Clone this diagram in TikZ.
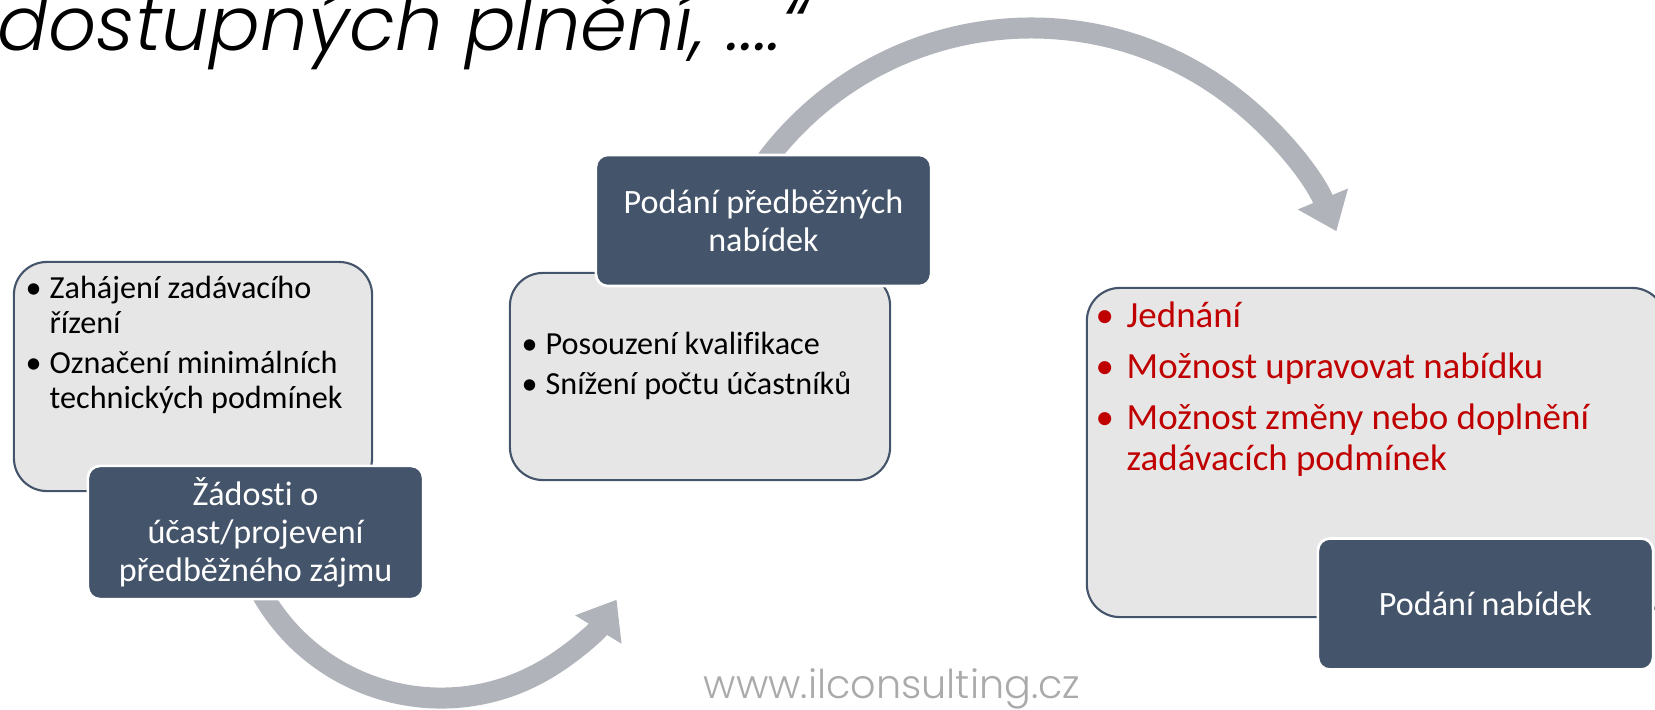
\documentclass[tikz,border=0pt]{standalone}
\usepackage{fontspec}
\setmainfont{Carlito}[Ligatures=NoCommon]
\IfFontExistsTF{Poppins Light Italic}
  {\newfontfamily\titlefont{Poppins Light Italic}}
  {\newfontfamily\titlefont{Poppins Italic}}
\IfFontExistsTF{Poppins Light}
  {\newfontfamily\webfont{Poppins Light}}
  {\newfontfamily\webfont{Poppins}}
\usetikzlibrary{arrows.meta}
\definecolor{slate}{RGB}{68,84,106}
\definecolor{boxgray}{RGB}{231,230,230}
\definecolor{arrowgray}{RGB}{176,179,186}
\definecolor{darkred}{RGB}{192,0,0}
\definecolor{webgray}{RGB}{170,170,170}
\newcommand{\bul}[1]{\makebox[#1][l]{•}}

\begin{document}
\begin{tikzpicture}[x=0.01cm,y=-0.01cm]
        \tikzset{
        light/.style={rectangle, rounded corners=0.33cm, fill=boxgray, draw=slate, line width=0.6pt},
        dark/.style={rectangle, rounded corners=0.12cm, fill=slate, draw=white, line width=0.75pt,
        minimum width=3.35cm, minimum height=1.31cm, text=white, align=center,
        font=\fontsize{9.7}{10.8}\selectfont},
        list/.style={anchor=base west, inner sep=0, align=left, font=\fontsize{9.15}{9.9}\selectfont},
        redlist/.style={list, text=darkred, font=\fontsize{10.5}{11.4}\selectfont},
        flow/.style={draw=arrowgray, line width=0.21cm, -{Triangle[length=0.35cm, width=0.52cm]}}
        }
        \useasboundingbox (0,0) rectangle (1655,709);

        % arrows behind the boxes
        \coordinate (a1) at (260.8,591.9);
        \coordinate (a2) at (766.7,159.8);
        \draw[flow] (a1) arc[start angle=151, end angle=31.5, radius=206];
        \draw[flow] (a2) arc[start angle=-143, end angle=-22.7, radius=331];

        \node[light, minimum width=3.58cm, minimum height=2.29cm] (b1) at (193,376.5) {};
        \node[light, minimum width=3.80cm, minimum height=2.07cm] (b2) at (700,376.5) {};
        \node[light, minimum width=5.78cm, minimum height=3.29cm] (b3) at (1376,452.5) {};

        \node[dark] (d1) at (255.5,532.5) {Žádosti o\\účast/projevení\\předběžného zájmu};
        \node[dark] (d2) at (763.5,220.5) {Podání předběžných\\nabídek};
        \node[dark] (d3) at (1485.5,604) {Podání nabídek};

        % base anchor sits on the last line
        \node[list] (t1) at (25,408) {\bul{2.4mm}Zahájení zadávacího\\\hspace*{2.4mm}řízení\\[1.3pt]
        \bul{2.4mm}Označení minimálních\\\hspace*{2.4mm}technických podmínek};
        \node[list] (t2) at (521,394) {\bul{2.4mm}Posouzení kvalifikace\\[1.4pt]
        \bul{2.4mm}Snížení počtu účastníků};
        \node[redlist] (t3) at (1095,470) {\bul{3.1mm}Jednání\\[3.1pt]
        \bul{3.1mm}Možnost upravovat nabídku\\[3.1pt]
        \bul{3.1mm}Možnost změny nebo doplnění\\\hspace*{3.1mm}zadávacích podmínek};

        \node[anchor=base west, inner sep=0, font=\titlefont\fontsize{21.4}{21.4}\selectfont] (title) at (-3,51)
        {dostupných plnění, ....“};
        \node[anchor=base, inner sep=0, text=webgray, font=\webfont\fontsize{11.3}{11.3}\selectfont] (web) at (892,698)
        {www.ilconsulting.cz};
\end{tikzpicture}
\end{document}
